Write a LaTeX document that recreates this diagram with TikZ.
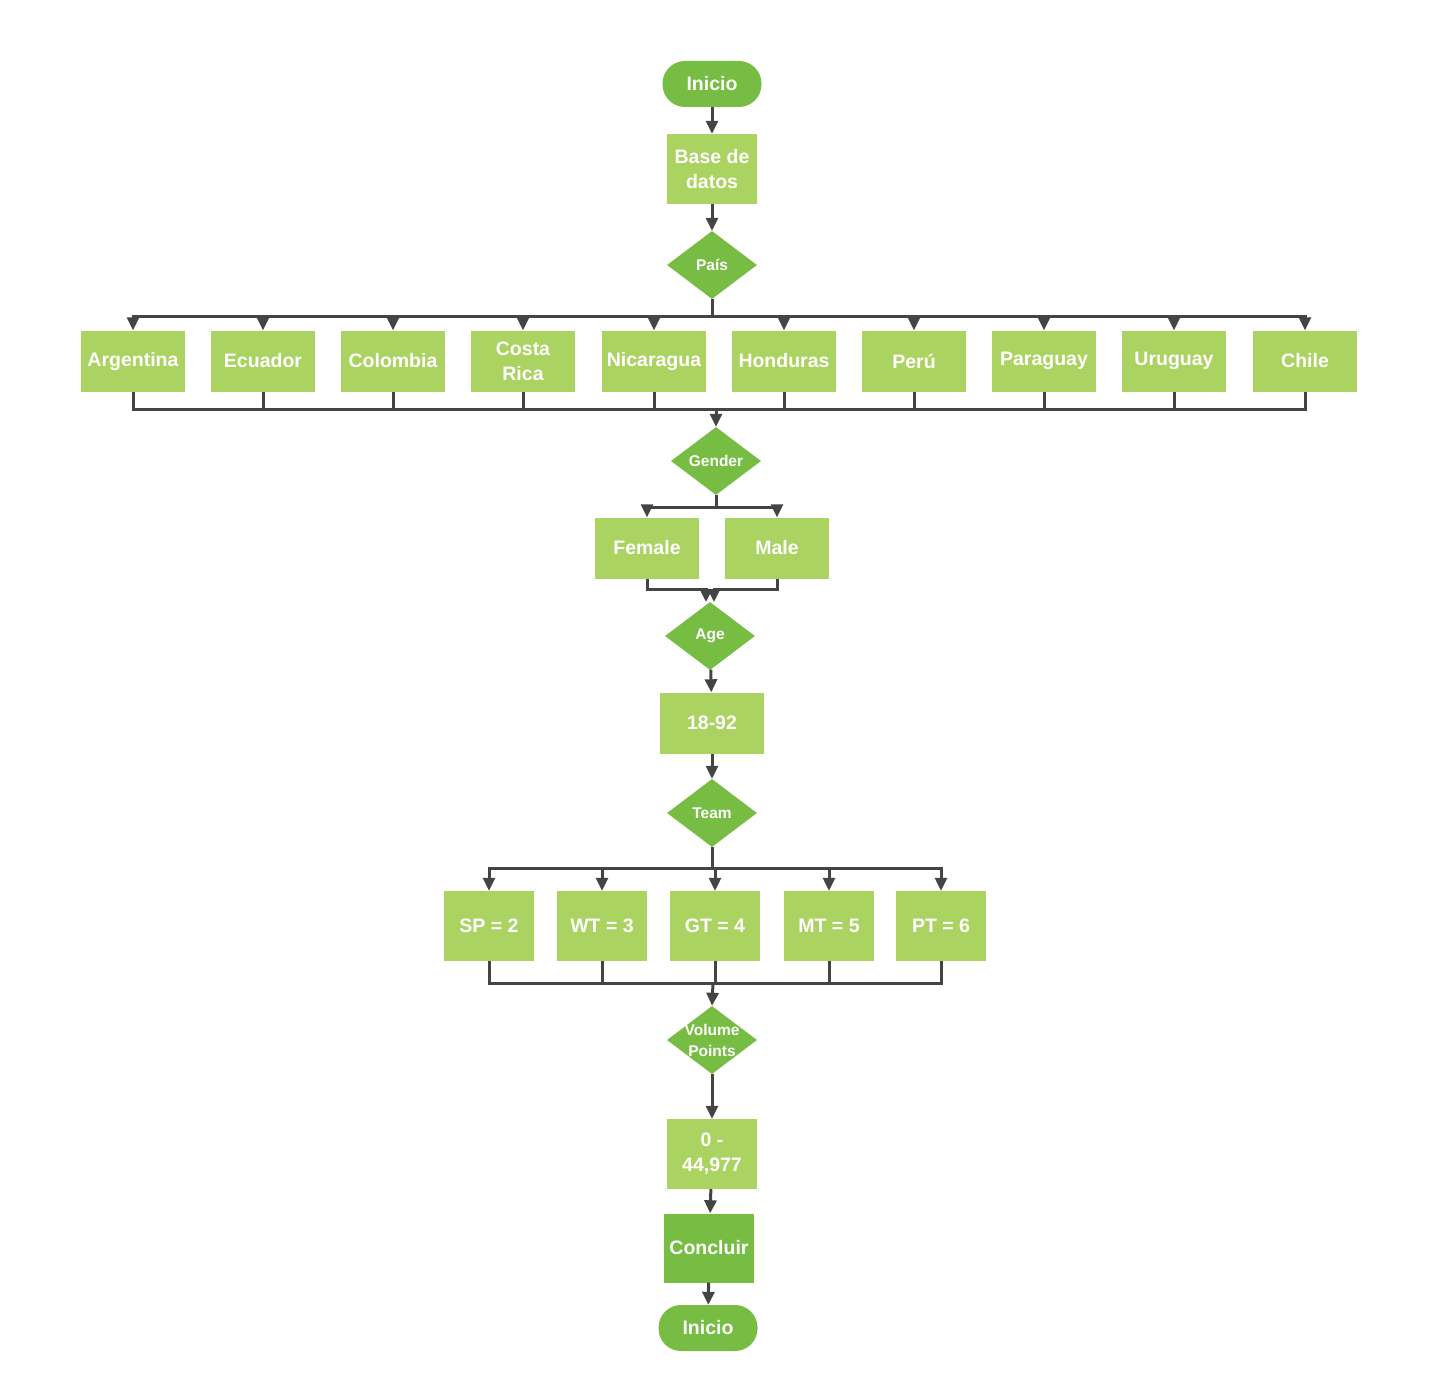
\documentclass[tikz,border=0pt]{standalone}
\usepackage{fontspec}
\setmainfont{Liberation Sans}
\usetikzlibrary{arrows.meta,shapes.geometric}
\definecolor{lgreen}{HTML}{ABD361}
\definecolor{dgreen}{HTML}{77BD43}
\definecolor{wire}{HTML}{444444}
\newcommand{\boxfont}{\fontsize{19.5}{25}\selectfont\bfseries}
\newcommand{\diafont}{\fontsize{15.5}{21}\selectfont\bfseries}
\begin{document}
\begin{tikzpicture}[x=1pt,y=-1pt,
  cbox/.style={rectangle,fill=lgreen,text=white,font=\boxfont,align=center,
    minimum width=104pt,minimum height=61pt,inner sep=0pt},
  tbox/.style={cbox,minimum width=90pt,minimum height=70pt},
  term/.style={rectangle,rounded corners=22.5pt,fill=dgreen,text=white,font=\boxfont,
    minimum width=99pt,minimum height=46pt,inner sep=0pt},
  dia/.style={diamond,fill=dgreen,minimum width=90pt,minimum height=68pt,inner sep=0pt},
  dtext/.style={text=white,font=\diafont,align=center,inner sep=0pt},
  wireline/.style={draw=wire,line width=3pt},
  arr/.style={wireline,-{Triangle[length=13pt,width=12pt]}}]

\useasboundingbox[fill=white] (0,0) rectangle (1438,1394);

% start of the flow
\node[term] (ini) at (712,84) {Inicio};
\node[tbox] (base) at (712,169) {Base de\\datos};
\node[dia,label={[dtext]center:País}] (pais) at (712,265) {};

% countries
\node[cbox] (arg) at (133,361) {Argentina};
\node[cbox] (ecu) at (263,361) {Ecuador};
\node[cbox] (col) at (393,361) {Colombia};
\node[cbox] (cri) at (523,361) {Costa\\Rica};
\node[cbox] (nic) at (654,361) {Nicaragua};
\node[cbox] (hon) at (784,361) {Honduras};
\node[cbox] (per) at (914,361) {Perú};
\node[cbox] (par) at (1044,361) {Paraguay};
\node[cbox] (uru) at (1174,361) {Uruguay};
\node[cbox] (chi) at (1305,361) {Chile};

\node[dia,label={[dtext]center:Gender}] (gen) at (716,461) {};
\node[cbox] (fem) at (647,548) {Female};
\node[cbox] (mal) at (777,548) {Male};
\node[dia,label={[dtext]center:Age}] (age) at (710,636) {};
\node[cbox] (edad) at (712,723) {18-92};
\node[dia,label={[dtext]center:Team}] (team) at (712,813) {};

% team levels
\node[tbox] (sp) at (489,926) {SP = 2};
\node[tbox] (wt) at (602,926) {WT = 3};
\node[tbox] (gt) at (715,926) {GT = 4};
\node[tbox] (mt) at (829,926) {MT = 5};
\node[tbox] (pt) at (941,926) {PT = 6};

\node[dia,label={[dtext]center:Volume\\Points}] (vol) at (712,1040) {};
\node[tbox] (rng) at (712,1154) {0 -\\44,977};
\node[tbox,fill=dgreen,minimum height=69pt] (fin) at (709,1248) {Concluir};
\node[term] (end) at (708,1328) {Inicio};

% junction points
\coordinate (busA) at (712,316);
\coordinate (busB) at (716,409);
\coordinate (busG) at (716,507);
\coordinate (ageL) at (706,602);
\coordinate (ageR) at (714,602);
\coordinate (busT) at (712,868);
\coordinate (busV) at (713,983);

% connectors
\draw[arr] (ini) -- (base);
\draw[arr] (base) -- (pais);
\draw[wireline] (pais.south) -- (busA);
\foreach \c in {arg,ecu,col,cri,nic,hon,per,par,uru,chi}{
  \draw[arr] (busA) -| (\c.north);
  \draw[wireline] (\c.south) |- (busB);
}
\draw[arr] (busB) -- (gen.north);
\draw[wireline] (gen.south) -- (busG);
\draw[arr] (busG) -| (fem.north);
\draw[arr] (busG) -| (mal.north);
\draw[arr] (fem.south) -- ++(0,11) -| (ageL);
\draw[arr] (mal.south) -- ++(0,11) -| (ageR);
\draw[arr] (age) -- (edad);
\draw[arr] (edad) -- (team);
\draw[wireline] (team.south) -- (busT);
\foreach \c in {sp,wt,gt,mt,pt}{
  \draw[arr] (busT) -| (\c.north);
  \draw[wireline] (\c.south) |- (busV);
}
\draw[arr] (busV) -- (vol.north);
\draw[arr] (vol) -- (rng);
\draw[arr] (rng) -- (fin);
\draw[arr] (fin) -- (end);
\end{tikzpicture}
\end{document}
